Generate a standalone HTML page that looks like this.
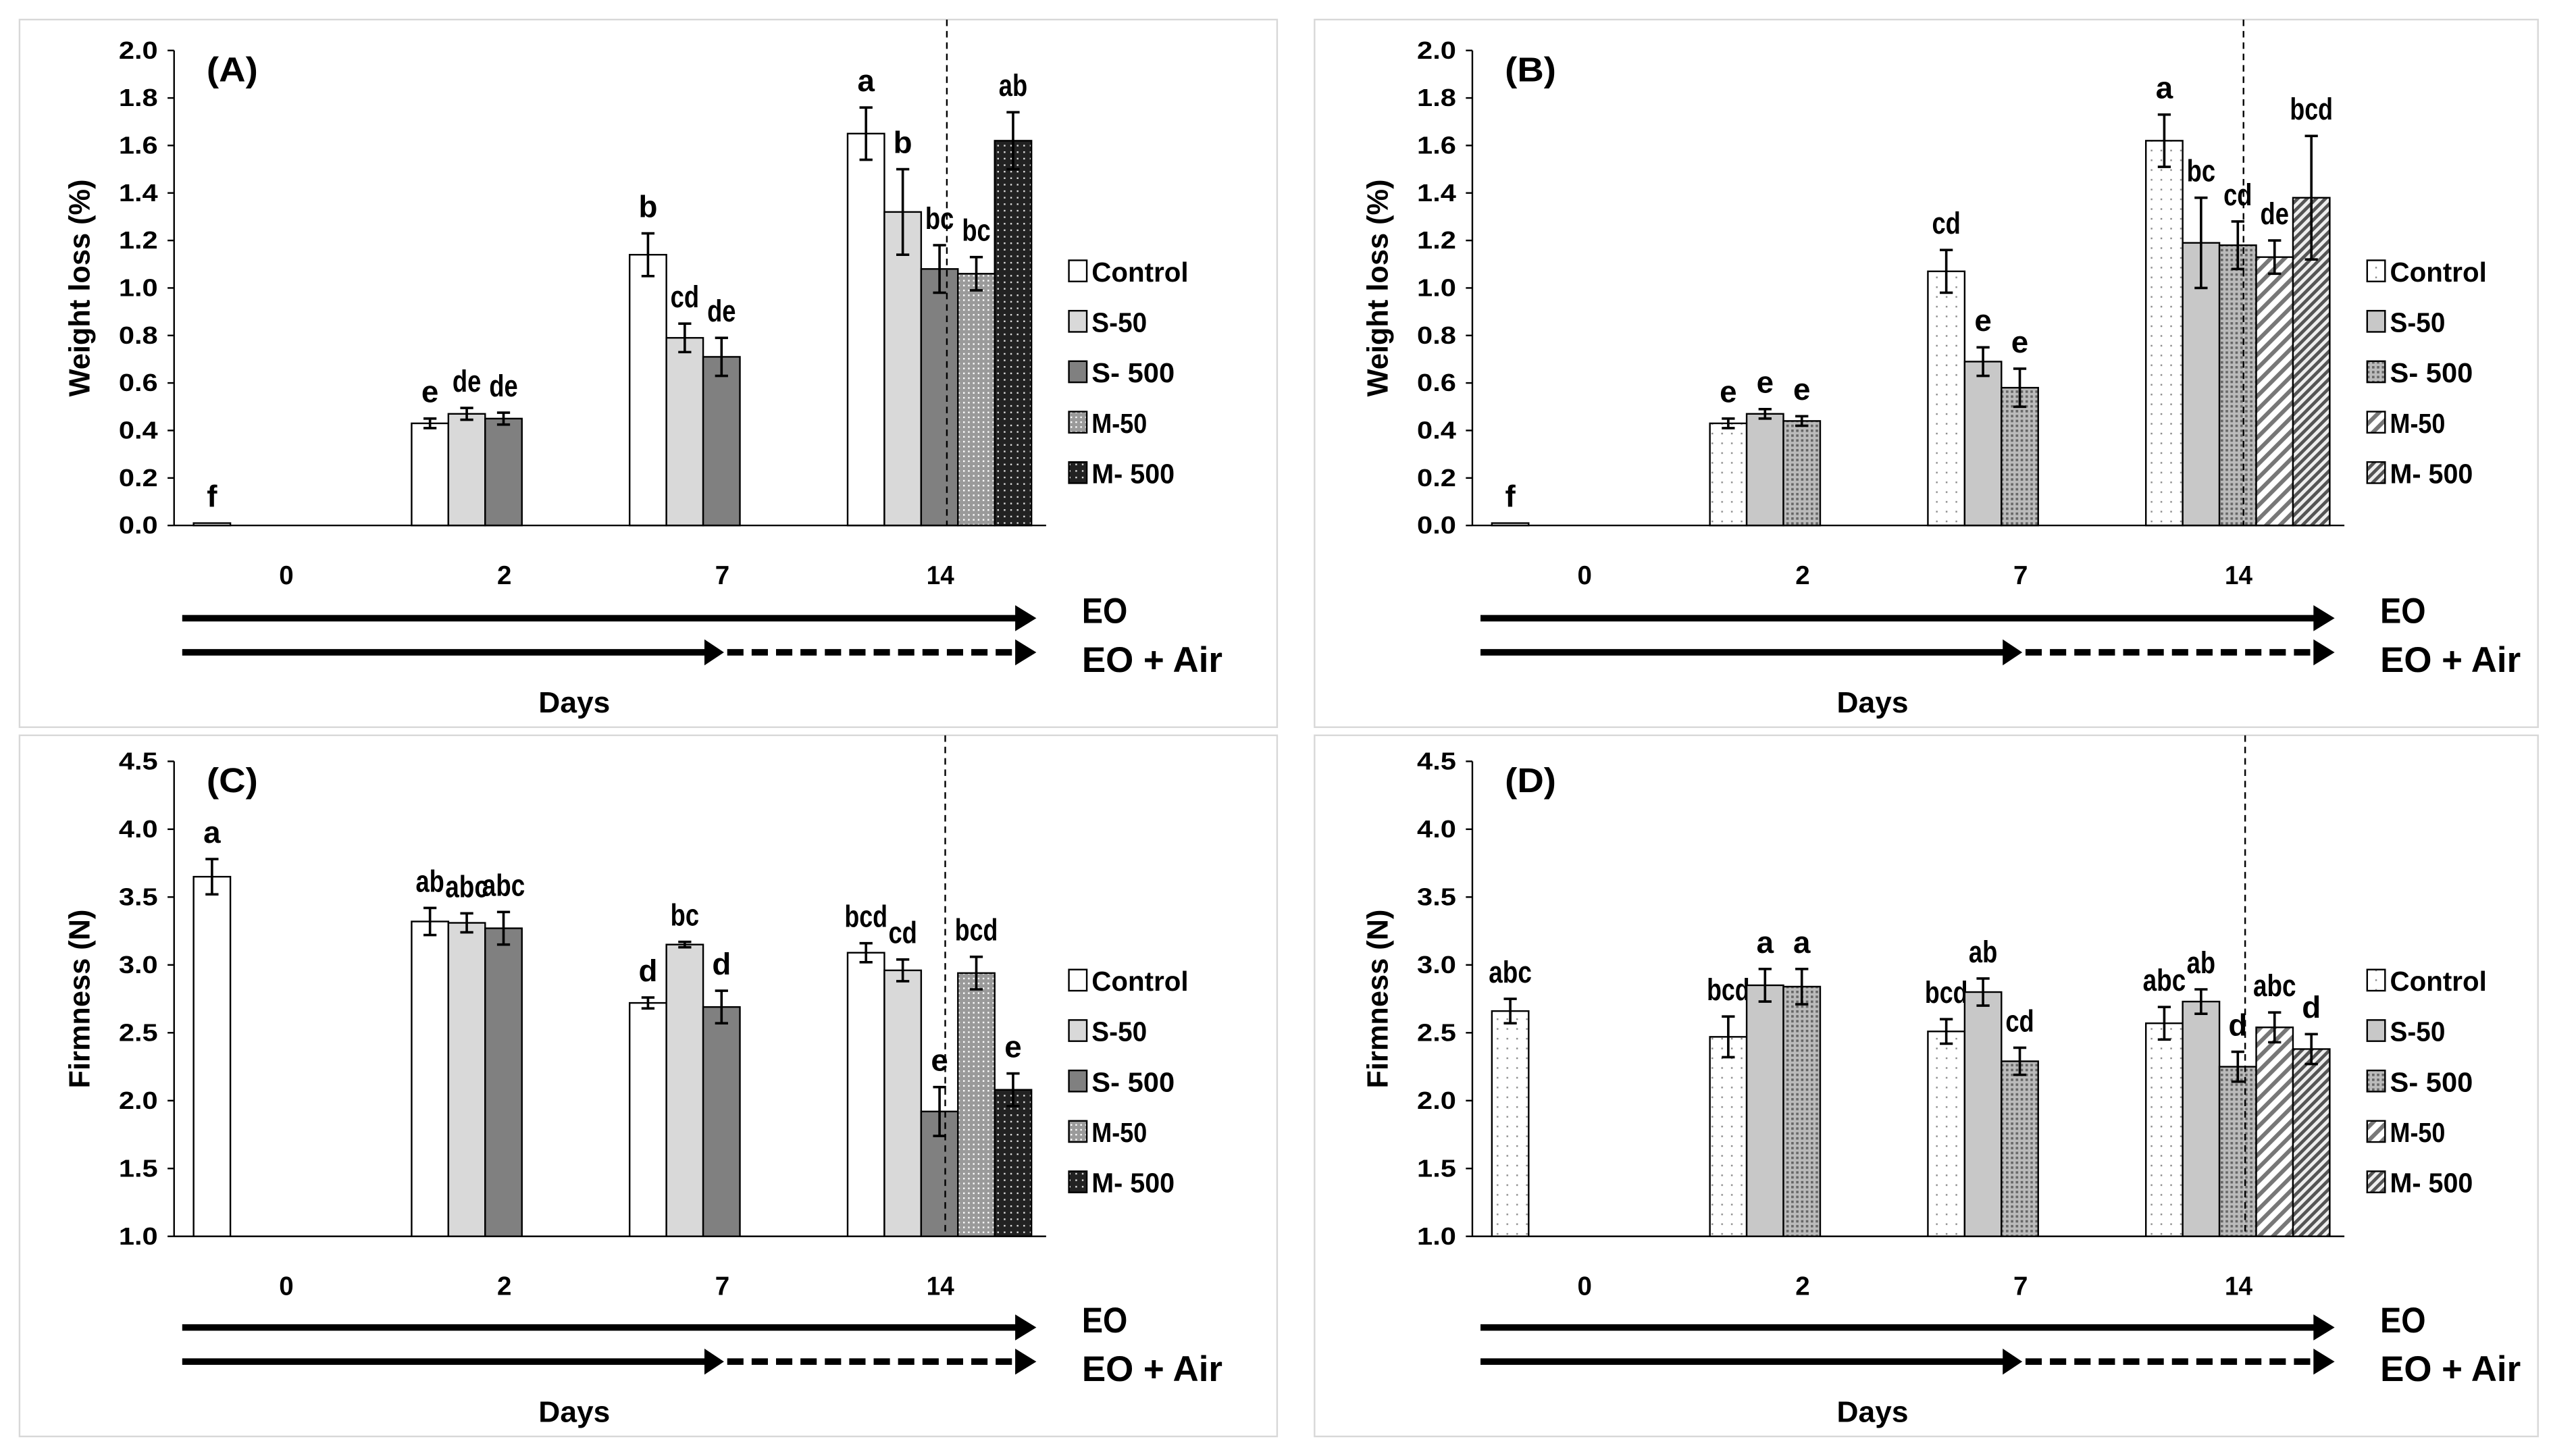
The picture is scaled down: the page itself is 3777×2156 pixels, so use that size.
<!DOCTYPE html>
<html><head><meta charset="utf-8"><style>
html,body{margin:0;padding:0;background:#fff}
svg{display:block}
text{font-family:"Liberation Sans Narrow","Liberation Sans",sans-serif;font-weight:bold;fill:#000}
</style></head><body>
<svg id="fig" width="3777" height="2156" viewBox="0 0 1568 895" xmlns="http://www.w3.org/2000/svg">
<defs>
<pattern id="pDotGray" width="3" height="3" patternUnits="userSpaceOnUse"><rect width="3" height="3" fill="#9a9a9a"/><rect x="1" y="1" width="1" height="1" fill="#fff"/></pattern>
<pattern id="pDotDark" width="4" height="4" patternUnits="userSpaceOnUse"><rect width="4" height="4" fill="#222"/><rect x="1" y="1" width="1" height="1" fill="#ddd"/></pattern>
<pattern id="pSparse" width="6" height="6" patternUnits="userSpaceOnUse"><rect width="6" height="6" fill="#fff"/><rect x="2" y="2" width="1" height="1" fill="#888"/></pattern>
<pattern id="pCross" width="3" height="3" patternUnits="userSpaceOnUse"><rect width="3" height="3" fill="#bbb"/><rect x="0" y="0" width="1.5" height="1.5" fill="#666"/></pattern>
<pattern id="pStripe" width="6" height="6" patternUnits="userSpaceOnUse" patternTransform="rotate(45)"><rect width="6" height="6" fill="#fff"/><rect width="2.5" height="6" fill="#777"/></pattern>
<pattern id="pStripe2" width="4" height="4" patternUnits="userSpaceOnUse" patternTransform="rotate(45)"><rect width="4" height="4" fill="#eee"/><rect width="2" height="4" fill="#555"/></pattern>
</defs>
</svg>
<script>
const categories = ["0","2","7","14"];
const seriesNames = ["Control","S-50","S- 500","M-50","M- 500"];
// Panel A weight loss (%)
const aVals = [[0.01],[0.43,0.47,0.45],[1.14,0.79,0.71],[1.65,1.32,1.08,1.06,1.62]];
const aErr  = [[0],[0.02,0.025,0.025],[0.09,0.06,0.08],[0.11,0.18,0.10,0.07,0.12]];
const aLet  = [["f"],["e","de","de"],["b","cd","de"],["a","b","bc","bc","ab"]];
// Panel B weight loss (%)
const bVals = [[0.01],[0.43,0.47,0.44],[1.07,0.69,0.58],[1.62,1.19,1.18,1.13,1.38]];
const bErr  = [[0],[0.02,0.02,0.02],[0.09,0.06,0.08],[0.11,0.19,0.10,0.07,0.26]];
const bLet  = [["f"],["e","e","e"],["cd","e","e"],["a","bc","cd","de","bcd"]];
// Panel C firmness (N)
const cVals = [[3.65],[3.32,3.31,3.27],[2.72,3.15,2.69],[3.09,2.96,1.92,2.94,2.08]];
const cErr  = [[0.13],[0.10,0.07,0.12],[0.04,0.02,0.12],[0.07,0.08,0.18,0.12,0.12]];
const cLet  = [["a"],["ab","abc","abc"],["d","bc","d"],["bcd","cd","e","bcd","e"]];
// Panel D firmness (N)
const dVals = [[2.66],[2.47,2.85,2.84],[2.51,2.80,2.29],[2.57,2.73,2.25,2.54,2.38]];
const dErr  = [[0.09],[0.15,0.12,0.13],[0.09,0.10,0.10],[0.12,0.09,0.11,0.11,0.11]];
const dLet  = [["abc"],["bcd","a","a"],["bcd","ab","cd"],["abc","ab","d","abc","d"]];
const wlTicks = ["0.0","0.2","0.4","0.6","0.8","1.0","1.2","1.4","1.6","1.8","2.0"];
const fTicks = ["1.0","1.5","2.0","2.5","3.0","3.5","4.0","4.5"];

const NS="http://www.w3.org/2000/svg";
const svg=document.getElementById('fig');
function mk(tag,attrs,parent,txt){const e=document.createElementNS(NS,tag);for(const k in attrs)e.setAttribute(k,attrs[k]);if(txt!==undefined)e.textContent=txt;(parent||svg).appendChild(e);return e;}
function squeeze(e,per){if(e.textContent.length<2)return;e.setAttribute('textLength',(e.textContent.length*per).toFixed(1));e.setAttribute('lengthAdjust','spacingAndGlyphs');}

const fillsAC=["#fff","#d9d9d9","#808080","url(#pDotGray)","url(#pDotDark)"];
const fillsBD=["url(#pSparse)","#c8c8c8","url(#pCross)","url(#pStripe)","url(#pStripe2)"];

function panel(o){
  const g=mk('g',{});
  
  
  const bx=mk('rect',{x:o.bx,y:o.by,width:o.bw,height:o.bh,fill:'none',stroke:'#d8d8d8','stroke-width':1},g);
  
  const x0=o.ax,x1=o.ax+536,yTop=o.yTop,yBot=o.yBot;
  const ticks=o.ticks.map(Number);const vmin=ticks[0],vmax=ticks[ticks.length-1];
  const ys=v=>yBot-(v-vmin)/(vmax-vmin)*(yBot-yTop);
  const cw=(x1-x0)/categories.length,bw=22.6,off=12;
  const xs=(ci,si)=>x0+ci*cw+off+si*bw;
  let l=mk('line',{x1:x0,y1:yTop,x2:x0,y2:yBot,stroke:'#000','stroke-width':1},g);
  
  o.ticks.forEach((t,i)=>{const y=ys(+t);
    mk('line',{x1:x0-4,y1:y,x2:x0,y2:y,stroke:'#000'},g);
    const tt=mk('text',{x:x0-10,y:y+5,'text-anchor':'end','font-size':15},g,t);
    squeeze(tt,8);
    });
  const yt=mk('text',{x:0,y:0,'text-anchor':'middle','font-size':18,transform:`translate(${o.ax-52},${(yTop+yBot)/2}) rotate(-90)`,style:'font-family:"Liberation Sans",sans-serif'},g,o.ylabel);
  
  const pl=mk('text',{x:x0+20,y:yTop+19,'font-size':21},g,'('+o.id+')');
  squeeze(pl,10.5);
  
  const fills=o.fills;
  o.vals.forEach((arr,ci)=>arr.forEach((v,si)=>{
    const x=xs(ci,si),y=ys(v);
    const r=mk('rect',{x:x,y:y,width:bw,height:Math.max(0.8,yBot-y),fill:fills[si],stroke:'#000','stroke-width':1},g);
    
    
    const e=o.err[ci][si];const cx=x+bw/2;
    if(e>0){const eg=mk('path',{d:`M${cx},${ys(v+e)}V${ys(v-e)}M${cx-4},${ys(v+e)}H${cx+4}M${cx-4},${ys(v-e)}H${cx+4}`,stroke:'#000','stroke-width':1.5,fill:'none'},g);
      }
    const lt=mk('text',{x:cx,y:ys(v+e)-10,'text-anchor':'middle','font-size':19},g,o.lets[ci][si]);
    squeeze(lt,8.8);
    
  }));
  l=mk('line',{x1:x0,y1:yBot,x2:x1,y2:yBot,stroke:'#000','stroke-width':1},g);
  
  categories.forEach((c,ci)=>{const t=mk('text',{x:x0+(ci+0.5)*cw+2,y:yBot+36,'text-anchor':'middle','font-size':16},g,c);
    squeeze(t,8.5);
    });
  const dv=mk('line',{x1:o.dash,y1:o.by,x2:o.dash,y2:yBot,stroke:'#000','stroke-width':1,'stroke-dasharray':'4,3'},g);
  
  seriesNames.forEach((n,i)=>{const ly=o.legY+i*31;
    const s=mk('rect',{x:x1+14,y:ly-7,width:11,height:13,fill:fills[i],stroke:'#000','stroke-width':1},g);
    
    const t=mk('text',{x:x1+28,y:ly+6,'font-size':17},g,n);
    squeeze(t,8.5);
    });
  const ay1=o.arrY,ay2=o.arrY+21,as=x0+5,ae=x1-6;
  let a=mk('path',{d:`M${as},${ay1}H${ae-12}`,stroke:'#000','stroke-width':4},g);
  
  mk('polygon',{points:`${ae-13},${ay1-8} ${ae},${ay1} ${ae-13},${ay1+8}`,fill:'#000'},g);
  const mid=x0+338;
  a=mk('path',{d:`M${as},${ay2}H${mid-10}`,stroke:'#000','stroke-width':4},g);
  
  mk('polygon',{points:`${mid-12},${ay2-8} ${mid},${ay2} ${mid-12},${ay2+8}`,fill:'#000'},g);
  a=mk('path',{d:`M${mid+2},${ay2}H${ae-12}`,stroke:'#000','stroke-width':4,'stroke-dasharray':'10,5'},g);
  
  mk('polygon',{points:`${ae-13},${ay2-8} ${ae},${ay2} ${ae-13},${ay2+8}`,fill:'#000'},g);
  let t=mk('text',{x:x1+22,y:ay1+3,'font-size':22},g,'EO');squeeze(t,14);
  t=mk('text',{x:x1+22,y:ay2+12,'font-size':22},g,'EO + Air');squeeze(t,10.8);
  t=mk('text',{x:x0+246,y:o.arrY+58,'text-anchor':'middle','font-size':18},g,'Days');squeeze(t,11);
}
panel({id:'A',bx:12,by:12,bw:773,bh:435,ax:107,yTop:31,yBot:323,ticks:wlTicks,ylabel:'Weight loss (%)',vals:aVals,err:aErr,lets:aLet,fills:fillsAC,dash:582,legY:167,arrY:380});
panel({id:'B',bx:808,by:12,bw:752,bh:435,ax:905,yTop:31,yBot:323,ticks:wlTicks,ylabel:'Weight loss (%)',vals:bVals,err:bErr,lets:bLet,fills:fillsBD,dash:1379,legY:167,arrY:380});
panel({id:'C',bx:12,by:452,bw:773,bh:431,ax:107,yTop:468,yBot:760,ticks:fTicks,ylabel:'Firmness (N)',vals:cVals,err:cErr,lets:cLet,fills:fillsAC,dash:581,legY:603,arrY:816});
panel({id:'D',bx:808,by:452,bw:752,bh:431,ax:905,yTop:468,yBot:760,ticks:fTicks,ylabel:'Firmness (N)',vals:dVals,err:dErr,lets:dLet,fills:fillsBD,dash:1380,legY:603,arrY:816});
</script>
</body></html>
